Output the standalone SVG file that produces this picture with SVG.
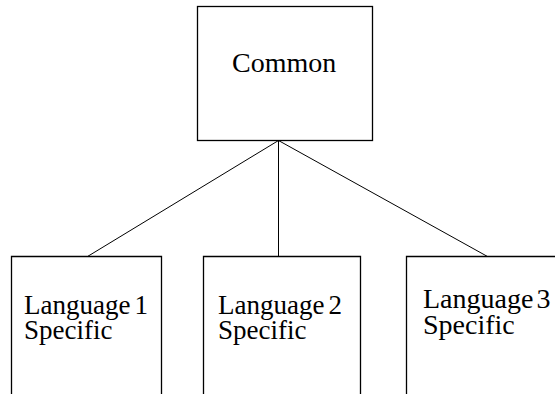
<svg xmlns="http://www.w3.org/2000/svg" width="555" height="394" viewBox="0 0 555 394">
<style>
.box{fill:none;stroke:#000;stroke-width:1.3}
.edge{fill:none;stroke:#000;stroke-width:1}
text{font-family:'Liberation Serif','Times New Roman',serif;fill:#000}
.big{font-size:28px}
.lab{font-size:27px}
.lab3{font-size:28px}
</style>
<rect width="555" height="394" fill="#fff"/>
<g id="connectors">
<line class="edge" x1="278.5" y1="140.5" x2="87.5" y2="256.5"/>
<line class="edge" x1="278.5" y1="140.5" x2="278.5" y2="256.5"/>
<line class="edge" x1="278.5" y1="140.5" x2="487.5" y2="256.5"/>
</g>
<g id="common">
<rect class="box" x="197.5" y="6.5" width="175" height="134"/>
<text class="big" x="232" y="72">Common</text>
</g>
<g id="lang1">
<path class="box" d="M11.5,400 V256.5 H161.5 V400"/>
<text class="lab" x="24" y="314">Language<tspan dx="4">1</tspan></text>
<text class="lab" x="24" y="339">Specific</text>
</g>
<g id="lang2">
<path class="box" d="M203.5,400 V256.5 H360.5 V400"/>
<text class="lab" x="218" y="314">Language<tspan dx="4">2</tspan></text>
<text class="lab" x="218" y="339">Specific</text>
</g>
<g id="lang3">
<path class="box" d="M406.5,400 V256.5 H570"/>
<text class="lab3" x="423" y="308">Language<tspan dx="3">3</tspan></text>
<text class="lab3" x="423" y="334">Specific</text>
</g>
</svg>
